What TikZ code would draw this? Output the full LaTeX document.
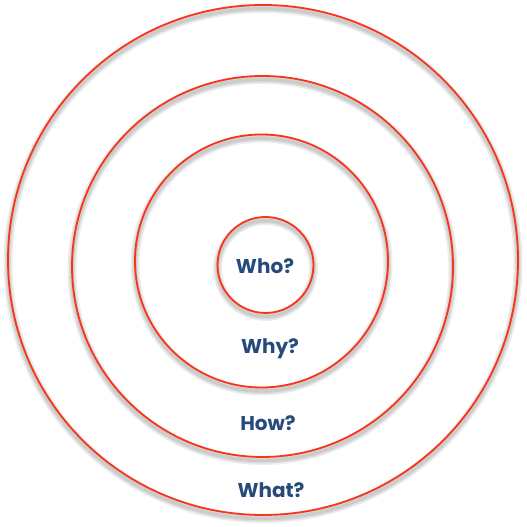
\documentclass[tikz,border=0pt]{standalone}
\usepackage{fontspec}
\setmainfont{Poppins}
\definecolor{ringred}{HTML}{FA3418}
\definecolor{labelblue}{HTML}{264B7B}
\tikzset{
  ring/.style={circle, draw=ringred, line width=1.8pt, inner sep=0pt, minimum size=#1},
  ringshadow/.style={draw=black, opacity=0.07},
  lbl/.style={text=labelblue, font=\fontsize{20}{24}\selectfont\bfseries}
}
\begin{document}
\begin{tikzpicture}[x=1pt,y=1pt]
\useasboundingbox (0,0) rectangle (527,527);
% shadows
\foreach \cx/\cy/\r in {263/267/255, 262.5/260.5/190.5, 261.5/266/126.5, 265.5/262/48}{
  \foreach \w in {9,6,3.5}{
    \draw[ringshadow, line width=\w pt] (\cx,\cy-3.5) circle (\r);
  }
}
\node[ring=510pt] (outer) at (263,267) {};
\node[ring=381pt] (second) at (262.5,260.5) {};
\node[ring=253pt] (third) at (261.5,266) {};
\node[ring=96pt] (inner) at (265.5,262) {};
\node[lbl] (who) at (265,261) {Who?};
\node[lbl] (why) at (270,178) {Why?};
\node[lbl] (how) at (268,104) {How?};
\node[lbl] (what) at (271,37) {What?};
\end{tikzpicture}
\end{document}
